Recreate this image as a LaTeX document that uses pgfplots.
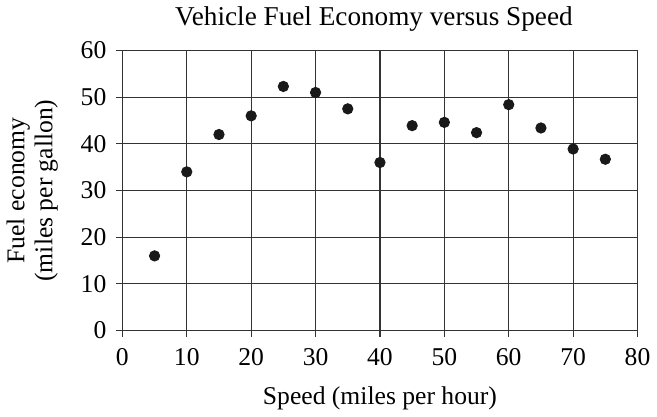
\documentclass[border=0pt]{standalone}
\usepackage{pgfplots}
\pgfplotsset{compat=1.18}
\usepackage{fontspec}
\setmainfont{Liberation Serif}
\begin{document}
\begin{tikzpicture}
\begin{axis}[
  scale only axis,
  width=257.5pt, height=140pt,
  xmin=0, xmax=80, ymin=0, ymax=60,
  xtick={0,10,...,80}, ytick={0,10,...,60},
  grid=major,
  grid style={line width=0.55pt, color=black!80},
  axis line style={line width=0.6pt, color=black!80},
  tick style={line width=0.55pt, color=black!80},
  tick align=outside,
  major tick length=3pt,
  xtick pos=bottom, ytick pos=left,
  tick label style={font=\fontsize{12.8}{13}\selectfont},
  yticklabel style={xshift=-1.5pt},
  xticklabel style={yshift=-2.5pt},
  /pgf/number format/assume math mode=true,
  title={Vehicle Fuel Economy versus Speed},
  title style={font=\fontsize{13.6}{14}\selectfont, yshift=0pt, xshift=-3pt},
  xlabel={Speed (miles per hour)},
  ylabel={Fuel economy\\(miles per gallon)},
  label style={font=\fontsize{12.8}{14}\selectfont},
  ylabel style={align=center, yshift=4.5pt},
  xlabel style={yshift=-3.5pt},
]
\addplot[only marks, mark=*, mark size=2.6pt, color=black!90, mark options={fill=black!90}] coordinates {
(5,16) (10,34) (15,42) (20,46) (25,52.3) (30,51) (35,47.5) (40,36)
(45,43.9) (50,44.6) (55,42.4) (60,48.4) (65,43.4) (70,38.9) (75,36.7)
};
\end{axis}
\end{tikzpicture}
\end{document}
